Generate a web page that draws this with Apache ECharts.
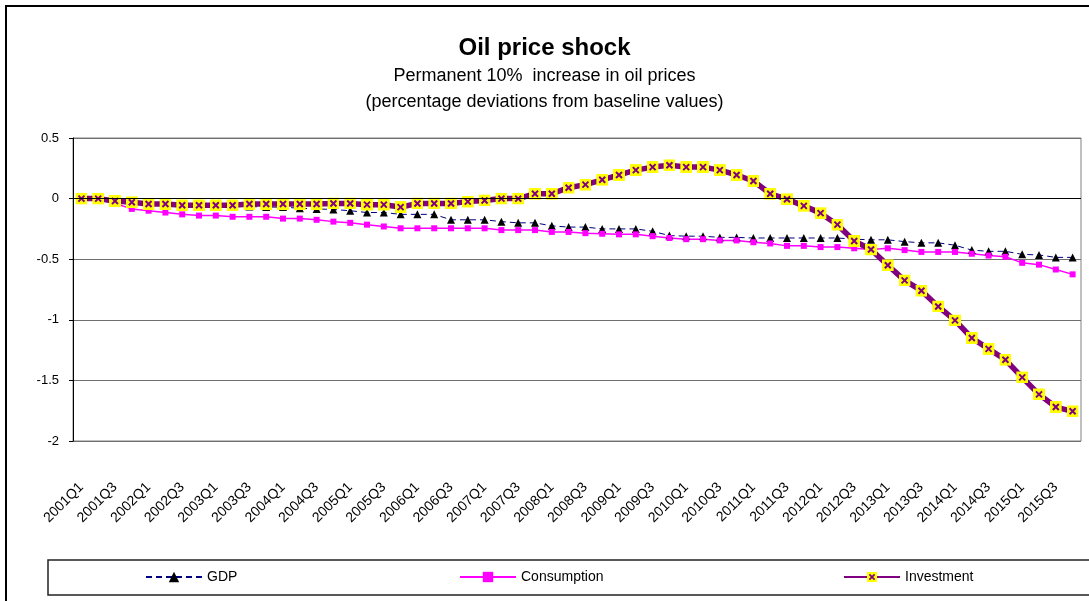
<!DOCTYPE html>
<html>
<head>
<meta charset="utf-8">
<title>Oil price shock</title>
<script src="https://cdn.jsdelivr.net/npm/echarts@6/dist/echarts.min.js"></script>
<style>
  html, body { margin: 0; padding: 0; background: #fff; }
  #chart { width: 1089px; height: 601px; }
</style>
</head>
<body>
<div id="chart"></div>
<script>
// quarters 2001Q1 .. 2015Q4
const quarters = []
for (let y = 2001; y <= 2015; y++) {
  for (let q = 1; q <= 4; q++) quarters.push(y + 'Q' + q)
}

// percentage deviations from baseline
const gdp = [
  0, -0.01, -0.025, -0.035, -0.045, -0.05, -0.055, -0.06, -0.06, -0.065,
  -0.065, -0.07, -0.07, -0.08, -0.085, -0.09, -0.1, -0.115, -0.115, -0.13,
  -0.13, -0.13, -0.175, -0.175, -0.175, -0.19, -0.2, -0.2, -0.225, -0.235,
  -0.235, -0.25, -0.25, -0.25, -0.27, -0.305, -0.31, -0.31, -0.32, -0.32,
  -0.325, -0.325, -0.325, -0.325, -0.325, -0.325, -0.335, -0.34, -0.34, -0.355,
  -0.365, -0.365, -0.385, -0.425, -0.435, -0.435, -0.46, -0.465, -0.485, -0.485
]
const consumption = [
  0, -0.01, -0.04, -0.085, -0.1, -0.115, -0.13, -0.14, -0.14, -0.15,
  -0.15, -0.15, -0.165, -0.165, -0.175, -0.19, -0.2, -0.215, -0.23, -0.245,
  -0.245, -0.245, -0.245, -0.245, -0.245, -0.26, -0.26, -0.26, -0.275, -0.275,
  -0.285, -0.29, -0.295, -0.295, -0.31, -0.325, -0.335, -0.335, -0.345, -0.345,
  -0.36, -0.37, -0.39, -0.39, -0.4, -0.4, -0.41, -0.42, -0.41, -0.425,
  -0.44, -0.44, -0.44, -0.455, -0.47, -0.48, -0.53, -0.545, -0.585, -0.625
]
const investment = [
  0, 0, -0.02, -0.03, -0.045, -0.045, -0.055, -0.055, -0.055, -0.055,
  -0.045, -0.045, -0.045, -0.045, -0.045, -0.04, -0.04, -0.05, -0.05, -0.07,
  -0.04, -0.04, -0.04, -0.025, -0.015, 0, 0, 0.04, 0.04, 0.09,
  0.115, 0.155, 0.195, 0.235, 0.26, 0.275, 0.26, 0.26, 0.235, 0.195,
  0.145, 0.04, -0.005, -0.06, -0.12, -0.215, -0.35, -0.42, -0.55, -0.675,
  -0.76, -0.89, -1.005, -1.15, -1.24, -1.33, -1.475, -1.615, -1.72, -1.755
]

const font = "'Liberation Sans', Arial, sans-serif"

// yellow square with a purple cross, like the Excel marker
const xMarkSvg = "<svg xmlns='http://www.w3.org/2000/svg' width='12' height='12'>" +
  "<rect width='12' height='12' fill='#ffff00'/>" +
  "<path d='M3 3L9 9M9 3L3 9' stroke='#800080' stroke-width='2'/></svg>"
const xMark = 'image://data:image/svg+xml;charset=utf-8,' + encodeURIComponent(xMarkSvg)

const chart = echarts.init(document.getElementById('chart'))

const legendBase = {
  top: 570,
  padding: 0,
  itemWidth: 56,
  itemHeight: 13,
  textStyle: { fontFamily: font, fontSize: 14, color: '#000' }
}

const options = {
  animation: false,
  backgroundColor: '#fff',
  title: [
    {
      text: 'Oil price shock',
      left: 'center',
      top: 31,
      textStyle: { fontFamily: font, fontSize: 24, fontWeight: 'bold', color: '#000' }
    },
    {
      text: 'Permanent 10%  increase in oil prices',
      left: 'center',
      top: 62,
      textStyle: { fontFamily: font, fontSize: 18, fontWeight: 'normal', color: '#000' }
    },
    {
      text: '(percentage deviations from baseline values)',
      left: 'center',
      top: 88,
      textStyle: { fontFamily: font, fontSize: 18, fontWeight: 'normal', color: '#000' }
    }
  ],
  // 三个图例分开摆放，位置跟原图一致
  legend: [
    Object.assign({ left: 145, data: ['GDP'] }, legendBase),
    Object.assign({ left: 459, data: ['Consumption'] }, legendBase),
    Object.assign({ left: 843, data: ['Investment'] }, legendBase)
  ],
  grid: {
    left: 73,
    right: 8,
    top: 138,
    height: 303,
    show: true,
    borderColor: '#808080',
    borderWidth: 1
  },
  xAxis: {
    type: 'category',
    data: quarters,
    boundaryGap: true,
    axisLine: { show: false },
    axisTick: { show: false },
    axisLabel: {
      interval: 1,
      rotate: 45,
      margin: 44,
      fontFamily: font,
      fontSize: 14,
      color: '#000'
    }
  },
  yAxis: {
    type: 'value',
    min: -2,
    max: 0.5,
    interval: 0.5,
    axisLine: { show: true, lineStyle: { color: '#000', width: 1 } },
    axisTick: { show: true, length: 4, lineStyle: { color: '#000' } },
    axisLabel: { margin: 14, fontFamily: font, fontSize: 13, color: '#000' },
    splitLine: { show: true, lineStyle: { color: '#707070', width: 1 } }
  },
  graphic: [
    // outer chart frame
    {
      type: 'rect',
      shape: { x: 6, y: 6, width: 1100, height: 610 },
      style: { fill: 'none', stroke: '#000', lineWidth: 2 },
      silent: true
    },
    // legend box
    {
      type: 'rect',
      shape: { x: 48, y: 560, width: 1060, height: 35 },
      style: { fill: 'none', stroke: '#222', lineWidth: 1.5 },
      silent: true
    }
  ],
  series: [
    {
      name: 'GDP',
      type: 'line',
      data: gdp,
      symbol: 'triangle',
      symbolSize: 8,
      showAllSymbol: true,
      itemStyle: { color: '#000' },
      lineStyle: { color: '#000080', width: 1, type: [6, 4] },
      // x axis crossing at zero
      markLine: {
        silent: true,
        symbol: 'none',
        label: { show: false },
        lineStyle: { color: '#000', width: 1, type: 'solid' },
        data: [{ yAxis: 0 }]
      }
    },
    {
      name: 'Consumption',
      type: 'line',
      data: consumption,
      symbol: 'rect',
      symbolSize: 6,
      showAllSymbol: true,
      itemStyle: { color: '#ff00ff' },
      lineStyle: { color: '#ff00ff', width: 1.5 }
    },
    {
      name: 'Investment',
      type: 'line',
      data: investment,
      symbol: xMark,
      symbolSize: 12,
      showAllSymbol: true,
      itemStyle: { color: '#800080' },
      lineStyle: { color: '#800080', width: 5.5 }
    }
  ]
}

chart.setOption(options)
</script>
</body>
</html>
